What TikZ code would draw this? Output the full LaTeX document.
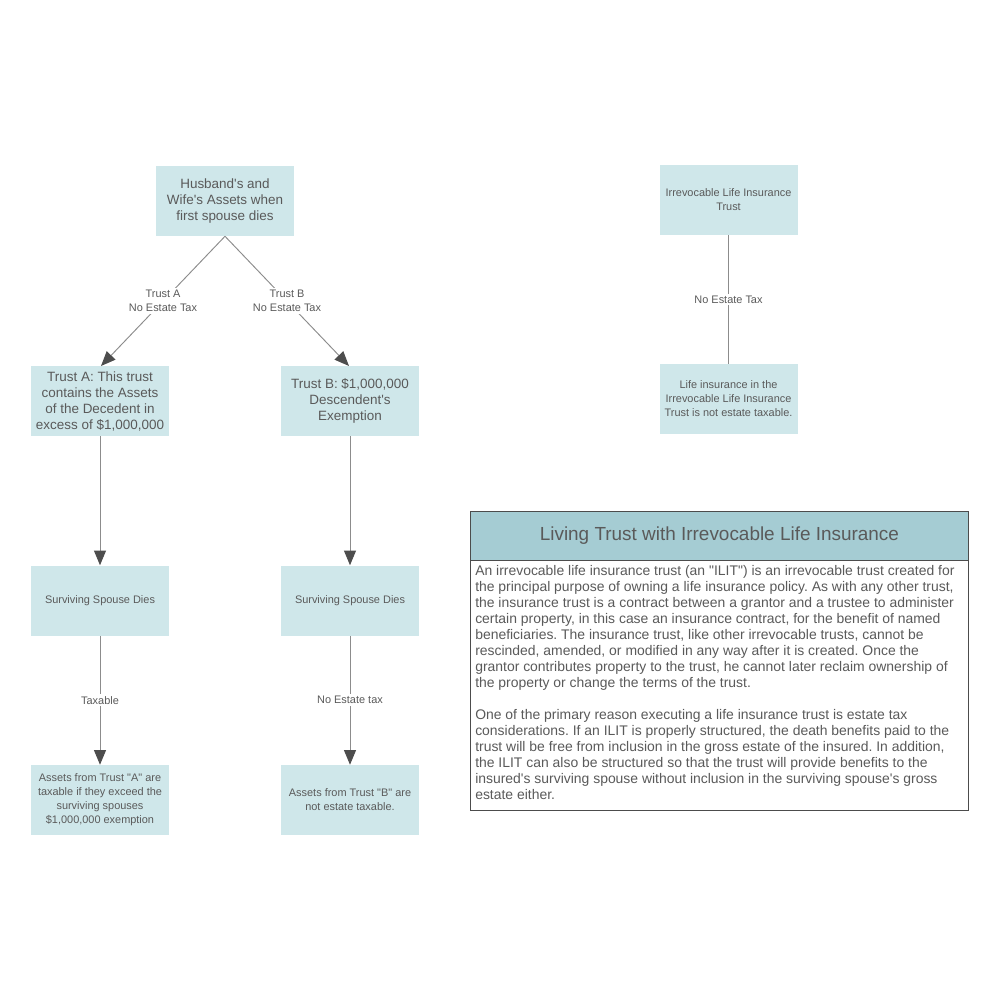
\documentclass[tikz,border=0pt]{standalone}
\usepackage{fontspec}
\setmainfont{Liberation Sans}[Ligatures=TeXOff]
\usetikzlibrary{arrows.meta}
\definecolor{boxfill}{HTML}{CFE7EA}
\definecolor{headfill}{HTML}{A5CCD3}
\definecolor{txt}{HTML}{5A5A5A}
\definecolor{ln}{HTML}{8C8C8C}
\definecolor{tip}{HTML}{4D4D4D}
\frenchspacing
\begin{document}
\begin{tikzpicture}[x=0.75pt,y=-0.75pt,
  bigbox/.style={fill=boxfill,draw=none,minimum width=138*0.75pt,minimum height=70*0.75pt,inner sep=0pt,align=center,text=txt,font=\fontsize{10.1}{12}\selectfont},
  smallbox/.style={bigbox,font=\fontsize{8.2}{10.5}\selectfont},
  conn/.style={draw=ln,line width=0.7pt},
  arr/.style={conn,-{Triangle[length=11pt,width=9pt,fill=tip,color=tip]}},
  lab/.style={fill=white,inner sep=1.5pt,text=txt,align=center,font=\fontsize{8.2}{10.5}\selectfont}]
\useasboundingbox (0,0) rectangle (1000,1000);
\fill[white] (0,0) rectangle (1000,1000);
\node[bigbox] (top) at (225,201) {Husband's and\\Wife's Assets when\\first spouse dies};
\node[bigbox] (ta) at (100,401) {Trust A: This trust\\contains the Assets\\of the Decedent in\\excess of \$1,000,000};
\node[bigbox] (tb) at (350,401) {Trust B: \$1,000,000\\Descendent's\\Exemption};
\node[smallbox] (sa) at (100,600.5) {Surviving Spouse Dies};
\node[smallbox] (sb) at (350,600.5) {Surviving Spouse Dies};
\node[smallbox] (aa) at (100,800) {Assets from Trust "A" are\\taxable if they exceed the\\surviving spouses\\\$1,000,000 exemption};
\node[smallbox] (ab) at (350,800) {Assets from Trust "B" are\\not estate taxable.};
\node[smallbox] (il) at (728.5,200) {Irrevocable Life Insurance\\Trust};
\node[smallbox] (li) at (728.5,399) {Life insurance in the\\Irrevocable Life Insurance\\Trust is not estate taxable.};
\coordinate (ta-in) at (101,366);
\coordinate (tb-in) at (349,366);
\draw[arr] (top.south) -- node[lab,pos=0.5]{Trust A\\No Estate Tax} (ta-in);
\draw[arr] (top.south) -- node[lab,pos=0.5]{Trust B\\No Estate Tax} (tb-in);
\draw[arr] (ta.south) -- (sa.north);
\draw[arr] (tb.south) -- (sb.north);
\draw[arr] (sa.south) -- node[lab]{Taxable} (aa.north);
\draw[arr] (sb.south) -- node[lab]{No Estate tax} (ab.north);
\draw[conn] (il.south) -- node[lab]{No Estate Tax} (li.south|-li.north);
% info box
\node[draw=black!70,line width=0.6pt,fill=headfill,minimum width=498*0.75pt,minimum height=49*0.75pt,inner sep=0pt,anchor=north west,text=txt,font=\fontsize{14.2}{16}\selectfont] (hd) at (470,511) {Living Trust with Irrevocable Life Insurance};
\node[draw=black!70,line width=0.6pt,fill=white,minimum width=498*0.75pt,minimum height=250*0.75pt,inner sep=0pt,anchor=north west] (bd) at (470,560) {};
\node[anchor=north west,inner sep=0pt,text=txt,align=left,font=\fontsize{10.45}{12}\selectfont] (bt) at (475,565) {An irrevocable life insurance trust (an "ILIT") is an irrevocable trust created for\\the principal purpose of owning a life insurance policy. As with any other trust,\\the insurance trust is a contract between a grantor and a trustee to administer\\certain property, in this case an insurance contract, for the benefit of named\\beneficiaries. The insurance trust, like other irrevocable trusts, cannot be\\rescinded, amended, or modified in any way after it is created. Once the\\grantor contributes property to the trust, he cannot later reclaim ownership of\\the property or change the terms of the trust.\\[12pt]One of the primary reason executing a life insurance trust is estate tax\\considerations. If an ILIT is properly structured, the death benefits paid to the\\trust will be free from inclusion in the gross estate of the insured. In addition,\\the ILIT can also be structured so that the trust will provide benefits to the\\insured's surviving spouse without inclusion in the surviving spouse's gross\\estate either.};
\end{tikzpicture}
\end{document}
